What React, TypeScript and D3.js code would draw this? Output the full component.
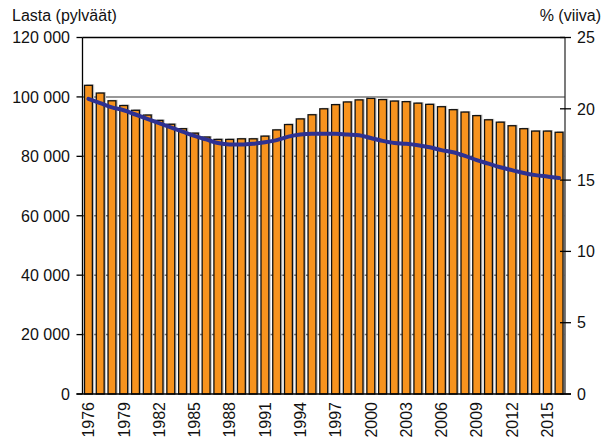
import React from "react";
import * as d3 from "d3";

const years: number[] = [
  1976, 1977, 1978, 1979, 1980, 1981, 1982, 1983, 1984, 1985,
  1986, 1987, 1988, 1989, 1990, 1991, 1992, 1993, 1994, 1995,
  1996, 1997, 1998, 1999, 2000, 2001, 2002, 2003, 2004, 2005,
  2006, 2007, 2008, 2009, 2010, 2011, 2012, 2013, 2014, 2015, 2016,
];

const children: number[] = [
  103900, 101300, 98700, 97100, 95500, 93900, 92100, 90800, 89300, 87800,
  86500, 85700, 85700, 85900, 85900, 86800, 88900, 90700, 92600, 94000,
  96000, 97400, 98300, 99000, 99500, 99100, 98600, 98400, 97900, 97500,
  96700, 95700, 94900, 93700, 92300, 91500, 90300, 89300, 88500, 88500, 88100,
];

const percent: number[] = [
  20.7, 20.4, 20.1, 19.9, 19.6, 19.3, 19.0, 18.7, 18.4, 18.1,
  17.85, 17.6, 17.5, 17.5, 17.55, 17.65, 17.8, 18.05, 18.2, 18.25,
  18.25, 18.25, 18.2, 18.15, 17.95, 17.75, 17.6, 17.55, 17.45, 17.3,
  17.1, 16.95, 16.7, 16.4, 16.15, 15.9, 15.7, 15.5, 15.35, 15.25, 15.15,
];

const leftTicks: number[] = [0, 20000, 40000, 60000, 80000, 100000, 120000];
const rightTicks: number[] = [0, 5, 10, 15, 20, 25];
const labelYears: number[] = [1976, 1979, 1982, 1985, 1988, 1991, 1994, 1997, 2000, 2003, 2006, 2009, 2012, 2015];

const leftTitle = "Lasta (pylväät)";
const rightTitle = "% (viiva)";

const W = 610;
const H = 443;
const L = 82.5;
const R = 565;
const T = 37.5;
const B = 394;
const FONT = "'Liberation Sans', Arial, sans-serif";

const fmt = (v: number) => d3.format(",")(v).replace(/,/g, " ");

export default function App() {
  const x = d3.scaleBand<number>().domain(years).range([L, R]).paddingInner(0.33).paddingOuter(0.17);
  const yL = d3.scaleLinear().domain([0, 120000]).range([B, T]);
  const yR = d3.scaleLinear().domain([0, 25]).range([B, T]);
  const cx = (yr: number) => (x(yr) as number) + x.bandwidth() / 2;

  const line = d3
    .line<number>()
    .x((_, i) => cx(years[i]))
    .y((d) => yR(d))
    .curve(d3.curveMonotoneX);

  return (
    <svg width={W} height={H} style={{ position: "absolute", left: 0, top: 0, background: "#fff" }} fontFamily={FONT}>
      <rect x={0} y={0} width={W} height={H} fill="#fff" />
      {/* gridlines */}
      {leftTicks.filter((t) => t > 0 && t < 120000).map((t) => (
        <line key={"g" + t} x1={L} x2={R} y1={yL(t)} y2={yL(t)} stroke="#777" strokeWidth={1.5} />
      ))}
      {/* bar shadows */}
      {years.map((yr, i) => (
        <rect
          key={"s" + yr}
          x={(x(yr) as number) + 1.8}
          y={yL(children[i]) - 1}
          width={x.bandwidth()}
          height={B - yL(children[i]) + 1}
          fill="#c4c4c4"
        />
      ))}
      {/* bars */}
      {years.map((yr, i) => (
        <rect
          key={"b" + yr}
          x={x(yr) as number}
          y={yL(children[i])}
          width={x.bandwidth()}
          height={B - yL(children[i])}
          fill="#f7931e"
          stroke="#111"
          strokeWidth={1.3}
        />
      ))}
      {/* frame */}
      <line x1={L} x2={R} y1={T} y2={T} stroke="#000" strokeWidth={1.3} />
      <line x1={L} x2={L} y1={T} y2={B} stroke="#000" strokeWidth={1.3} />
      <line x1={R} x2={R} y1={T} y2={B} stroke="#333" strokeWidth={1.3} />
      <line x1={L - 6} x2={R + 6} y1={B} y2={B} stroke="#000" strokeWidth={1.3} />
      {/* left ticks */}
      {leftTicks.map((t) => (
        <g key={"l" + t}>
          <line x1={L - 6} x2={L} y1={yL(t)} y2={yL(t)} stroke="#000" strokeWidth={1.3} />
          <text x={70} y={yL(t)} dy="0.36em" textAnchor="end" fontSize={16} fill="#111">
            {fmt(t)}
          </text>
        </g>
      ))}
      {/* right ticks */}
      {rightTicks.map((t) => (
        <g key={"r" + t}>
          <line x1={R - 5} x2={R + 6} y1={yR(t)} y2={yR(t)} stroke="#000" strokeWidth={1.3} />
          <text x={577} y={yR(t)} dy="0.36em" textAnchor="start" fontSize={16} fill="#111">
            {t}
          </text>
        </g>
      ))}
      {/* x labels */}
      {labelYears.map((yr) => (
        <text
          key={"x" + yr}
          transform={`translate(${cx(yr)},${B + 8}) rotate(-90)`}
          dy="0.36em"
          textAnchor="end"
          fontSize={16}
          fill="#111"
        >
          {yr}
        </text>
      ))}
      {/* line */}
      <path d={line(percent) || ""} fill="none" stroke="#2e3192" strokeWidth={4} strokeLinecap="round" />
      {/* titles */}
      <text x={12} y={21} fontSize={16} fill="#111">{leftTitle}</text>
      <text x={601} y={21} fontSize={16} textAnchor="end" fill="#111">{rightTitle}</text>
    </svg>
  );
}
